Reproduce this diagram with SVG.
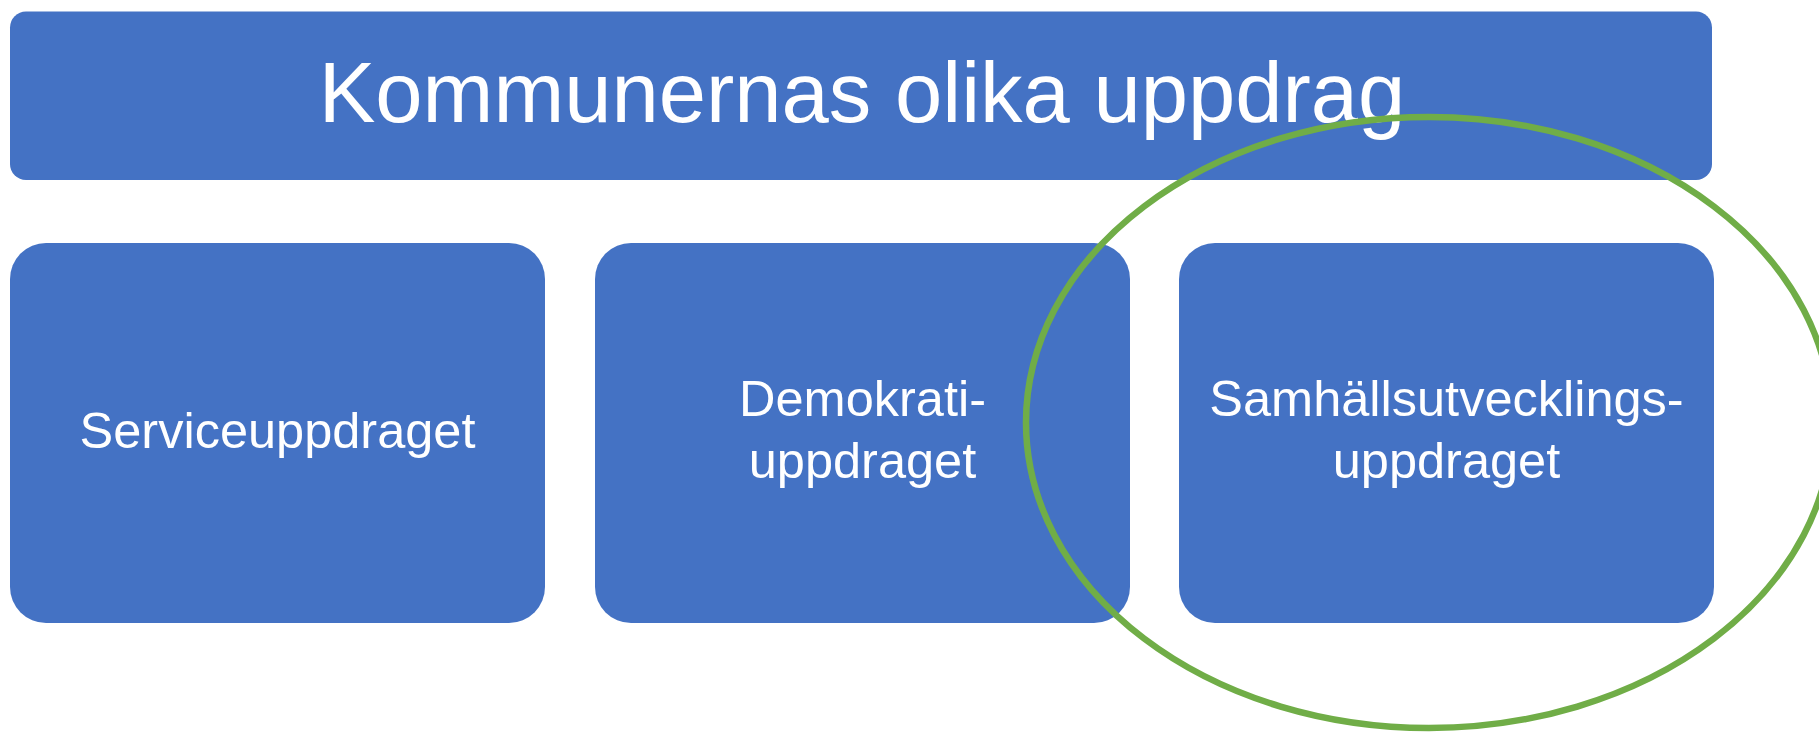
<svg xmlns="http://www.w3.org/2000/svg" width="1819" height="732" viewBox="0 0 1819 732">
<style>
.box{fill:#4472C4;}
.lbl{fill:#FFFFFF;font-family:"Liberation Sans","Open Sans",Arial,sans-serif;text-anchor:middle;}
.t1{font-size:85px;}
.t2{font-size:50.5px;}
.ring{fill:none;stroke:#70AD47;stroke-width:6.5;}
</style>
<rect width="1819" height="732" fill="#FFFFFF"/>
<g id="title">
<rect class="box" x="10" y="11.5" width="1702" height="168.5" rx="16" ry="16"/>
<text class="lbl t1" x="862" y="122">Kommunernas olika uppdrag</text>
</g>
<g id="service">
<rect class="box" x="10" y="243" width="535" height="380" rx="36" ry="36"/>
<text class="lbl t2" x="277.5" y="448">Serviceuppdraget</text>
</g>
<g id="demokrati">
<rect class="box" x="595" y="243" width="535" height="380" rx="36" ry="36"/>
<text class="lbl t2" x="862.5" y="416">Demokrati-</text>
<text class="lbl t2" x="862.5" y="478">uppdraget</text>
</g>
<g id="samhall">
<rect class="box" x="1179" y="243" width="535" height="380" rx="36" ry="36"/>
<text class="lbl t2" x="1446.5" y="416">Samhällsutvecklings-</text>
<text class="lbl t2" x="1446.5" y="478">uppdraget</text>
</g>
<g id="connectors">
<ellipse id="highlight" class="ring" cx="1429" cy="422.5" rx="403" ry="305.5"/>
</g>
</svg>
